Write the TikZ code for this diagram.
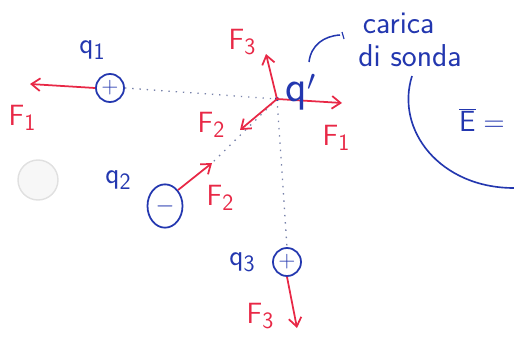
\documentclass[tikz,border=0pt]{standalone}
\usepackage{tikz}
\usetikzlibrary{arrows.meta,shapes.geometric}
\definecolor{inkblue}{RGB}{35,55,175}
\definecolor{inkred}{RGB}{232,40,70}
\definecolor{dotgray}{RGB}{120,130,170}
\newcommand{\idx}[2]{#1\raisebox{-0.45ex}{\scalebox{0.8}{#2}}}
\tikzset{
  charge/.style={circle,draw=inkblue,line width=1.5pt,minimum size=0.84cm,inner sep=0pt,text=inkblue,font=\sffamily\fontsize{20}{22}\selectfont},
  force/.style={->,inkred,line width=1.5pt},
  flabel/.style={text=inkred,font=\sffamily\fontsize{25}{27}\selectfont},
  qlabel/.style={text=inkblue,font=\sffamily\fontsize{25}{27}\selectfont},
  axisline/.style={dotgray,line width=1.1pt,dash pattern=on 1.2pt off 5pt}
}

\begin{document}
\begin{tikzpicture}[x=0.03cm,y=-0.03cm,>={Straight Barb[length=2.6mm,width=3.8mm]}]
  \useasboundingbox (0,0) rectangle (514,337);
  % charges
  \node[charge] (q1) at (110,88) {+};
  \node[charge,ellipse,minimum width=1.05cm,minimum height=1.3cm] (q2) at (165,206) {$-$};
  \node[charge] (q3) at (287,262) {+};
  \coordinate (qp) at (277,99);
  \fill[inkblue] (qp) circle (1.8pt);
  % force tips
  \coordinate (f1a) at (30,84);
  \coordinate (f1b) at (342,103);
  \coordinate (f3a) at (266,54);
  \coordinate (f2a) at (240,130);
  \coordinate (f2b) at (212,163);
  \coordinate (f3b) at (297,328);
  % dotted lines
  \draw[axisline] (q1.east) -- (qp);
  \draw[axisline] (qp) -- (f2b);
  \draw[axisline] (qp) -- (q3.north);
  % forces
  \draw[force] (q1.west) -- (f1a);
  \draw[force] (qp) -- (f1b);
  \draw[force] (qp) -- (f3a);
  \draw[force] (qp) -- (f2a);
  \draw[force] (q2.north east) -- (f2b);
  \draw[force] (q3.south) -- (f3b);
  % labels
  \node[qlabel] (l1) at (92,50) {\idx{q}{1}};
  \node[qlabel] (l2) at (118,180) {\idx{q}{2}};
  \node[qlabel] (l3) at (242,262) {\idx{q}{3}};
  \node[qlabel,font=\sffamily\fontsize{38}{40}\selectfont] (lp) at (301,92) {q$'$};
  \node[flabel] at (22,118) {\idx{F}{1}};
  \node[flabel] at (242,42) {\idx{F}{3}};
  \node[flabel] at (211,125) {\idx{F}{2}};
  \node[flabel] at (336,138) {\idx{F}{1}};
  \node[flabel] at (220,198) {\idx{F}{2}};
  \node[flabel] at (260,316) {\idx{F}{3}};
  % test charge note
  \node[qlabel,font=\sffamily\fontsize{27}{28}\selectfont,align=left,inner sep=1pt] (probe) at (410,40) {\hspace{4pt}carica\\di sonda};
  \draw[inkblue,line width=1.3pt] (309,62) .. controls (311,45) and (324,36) .. (340,35);
  \draw[inkblue,line width=1pt] (342,32) -- (344,39);
  % field
  \draw[inkblue,line width=1.4pt] (412,76) .. controls (395,130) and (440,188) .. (514,188);
  \node[qlabel,anchor=west,font=\sffamily\fontsize{34}{36}\selectfont] (efield) at (455,120) {$\overline{\mathsf{E}}=$};
  % paper hole
  \draw[black!12,fill=black!3,line width=1.2pt] (38,180) circle (0.6cm);
\end{tikzpicture}
\end{document}
